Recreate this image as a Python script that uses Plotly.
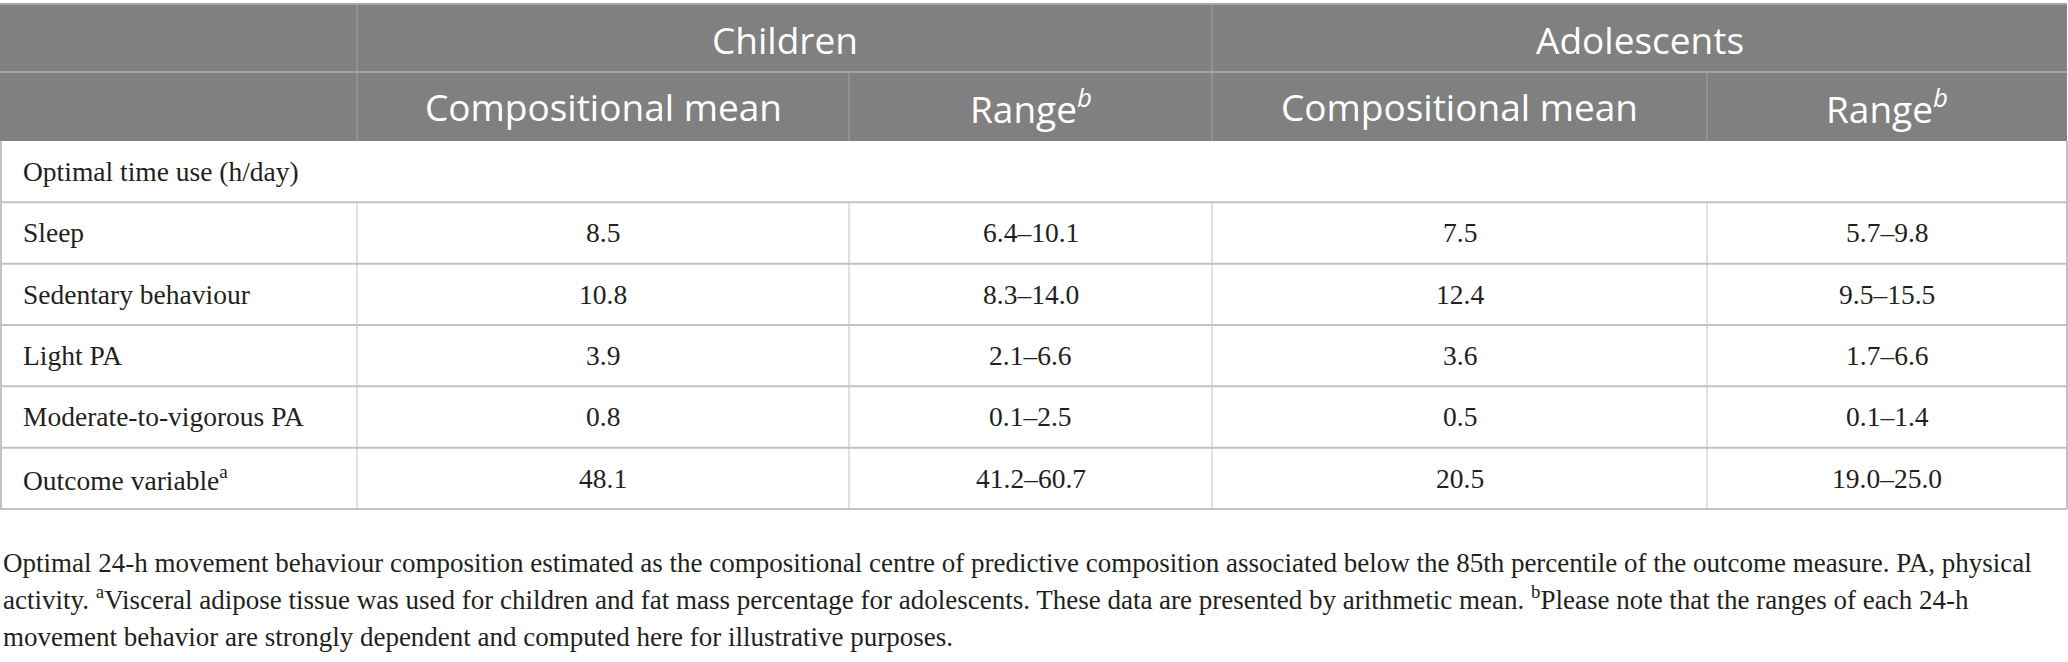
import plotly.graph_objects as go

W, H = 2068, 662

# table content
groups = ["Children", "Adolescents"]
sub_headers = ["Compositional mean", "Range<sup><i>b</i></sup>",
               "Compositional mean", "Range<sup><i>b</i></sup>"]
section_label = "Optimal time use (h/day)"
row_labels = ["Sleep", "Sedentary behaviour", "Light PA",
              "Moderate-to-vigorous PA", "Outcome variable<sup>a</sup>"]
children_mean = [8.5, 10.8, 3.9, 0.8, 48.1]
children_low = [6.4, 8.3, 2.1, 0.1, 41.2]
children_high = [10.1, 14.0, 6.6, 2.5, 60.7]
adol_mean = [7.5, 12.4, 3.6, 0.5, 20.5]
adol_low = [5.7, 9.5, 1.7, 0.1, 19.0]
adol_high = [9.8, 15.5, 6.6, 1.4, 25.0]
footnote_lines = [
    "Optimal 24-h movement behaviour composition estimated as the compositional centre of predictive composition associated below the 85th percentile of the outcome measure. PA, physical",
    "activity. <sup>a</sup>Visceral adipose tissue was used for children and fat mass percentage for adolescents. These data are presented by arithmetic mean. <sup>b</sup>Please note that the ranges of each 24-h",
    "movement behavior are strongly dependent and computed here for illustrative purposes.",
]

# geometry (pixels)
col_x = [0, 357, 849, 1212, 1707, 2067]
top, h1, h2 = 4, 72, 141
row_h = 61.33
n_rows = 1 + len(row_labels)
bottom = h2 + n_rows * row_h

HEAD_FILL = "#7f807f"
HEAD_LINE = "#a3a4a3"
BODY_LINE = "#c2c2c2"
TEXT = "#231f20"
SANS = "Open Sans"
SERIF = "Liberation Serif"

fig = go.Figure()
shapes = []
ann = []

# header block
shapes.append(dict(type="rect", x0=col_x[0], x1=col_x[-1], y0=top, y1=h2,
                   fillcolor=HEAD_FILL, line=dict(width=0), layer="below"))
shapes.append(dict(type="line", x0=col_x[0], x1=col_x[-1], y0=top, y1=top,
                   line=dict(color=HEAD_LINE, width=2)))
shapes.append(dict(type="line", x0=col_x[0], x1=col_x[-1], y0=h1, y1=h1,
                   line=dict(color=HEAD_LINE, width=2)))
for x in (col_x[1], col_x[3]):
    shapes.append(dict(type="line", x0=x, x1=x, y0=top, y1=h1,
                       line=dict(color=HEAD_LINE, width=1)))
for x in col_x[1:5]:
    shapes.append(dict(type="line", x0=x, x1=x, y0=h1, y1=h2,
                       line=dict(color=HEAD_LINE, width=1)))

head_font = dict(family=SANS, size=37, color="white")
ann.append(dict(x=(col_x[1] + col_x[3]) / 2, y=(top + h1) / 2 + 1, text=groups[0], font=head_font))
ann.append(dict(x=(col_x[3] + col_x[5]) / 2, y=(top + h1) / 2 + 1, text=groups[1], font=head_font))
for i, s in enumerate(sub_headers):
    ann.append(dict(x=(col_x[i + 1] + col_x[i + 2]) / 2, y=(h1 + h2) / 2,
                    text=s, font=head_font))

# body lines
row_y = [h2 + k * row_h for k in range(n_rows + 1)]
for y in row_y[1:]:
    shapes.append(dict(type="line", x0=col_x[0], x1=col_x[-1], y0=y, y1=y,
                       line=dict(color=BODY_LINE, width=2)))
for x in (col_x[0] + 1, col_x[-1]):
    shapes.append(dict(type="line", x0=x, x1=x, y0=h2, y1=bottom,
                       line=dict(color=BODY_LINE, width=2)))
for x in col_x[1:5]:
    shapes.append(dict(type="line", x0=x, x1=x, y0=row_y[1], y1=bottom,
                       line=dict(color=BODY_LINE, width=1)))

body_font = dict(family=SERIF, size=27.5, color=TEXT)
ann.append(dict(x=21, y=(row_y[0] + row_y[1]) / 2, text=section_label,
                xanchor="left", font=body_font))

cols = [
    [f"{v:.1f}" for v in children_mean],
    [f"{a:.1f}–{b:.1f}" for a, b in zip(children_low, children_high)],
    [f"{v:.1f}" for v in adol_mean],
    [f"{a:.1f}–{b:.1f}" for a, b in zip(adol_low, adol_high)],
]
for r, lab in enumerate(row_labels):
    yc = (row_y[r + 1] + row_y[r + 2]) / 2
    ann.append(dict(x=21, y=yc, text=lab, xanchor="left", font=body_font))
    for c, vals in enumerate(cols):
        ann.append(dict(x=(col_x[c + 1] + col_x[c + 2]) / 2, y=yc,
                        text=vals[r], font=body_font))

# footnote
for k, line in enumerate(footnote_lines):
    ann.append(dict(x=1, y=573 + k * 37, text=line, xanchor="left", yanchor="bottom",
                    yshift=-7, font=dict(family=SERIF, size=27, color=TEXT)))

for a in ann:
    a.setdefault("xanchor", "center")
    a.setdefault("yanchor", "middle")
    a.update(xref="x", yref="y", showarrow=False)

fig.update_layout(
    width=W, height=H,
    margin=dict(l=0, r=0, t=0, b=0),
    paper_bgcolor="white", plot_bgcolor="white",
    xaxis=dict(range=[0, W], visible=False, fixedrange=True),
    yaxis=dict(range=[H, 0], visible=False, fixedrange=True),
    shapes=shapes, annotations=ann, showlegend=False,
)

# the page body has a default 8px margin, drop it so the table sits at the edge
fig.write_html("out.html", config={"displayModeBar": False},
               post_script="document.body.style.margin='0';document.body.style.overflow='hidden';")
